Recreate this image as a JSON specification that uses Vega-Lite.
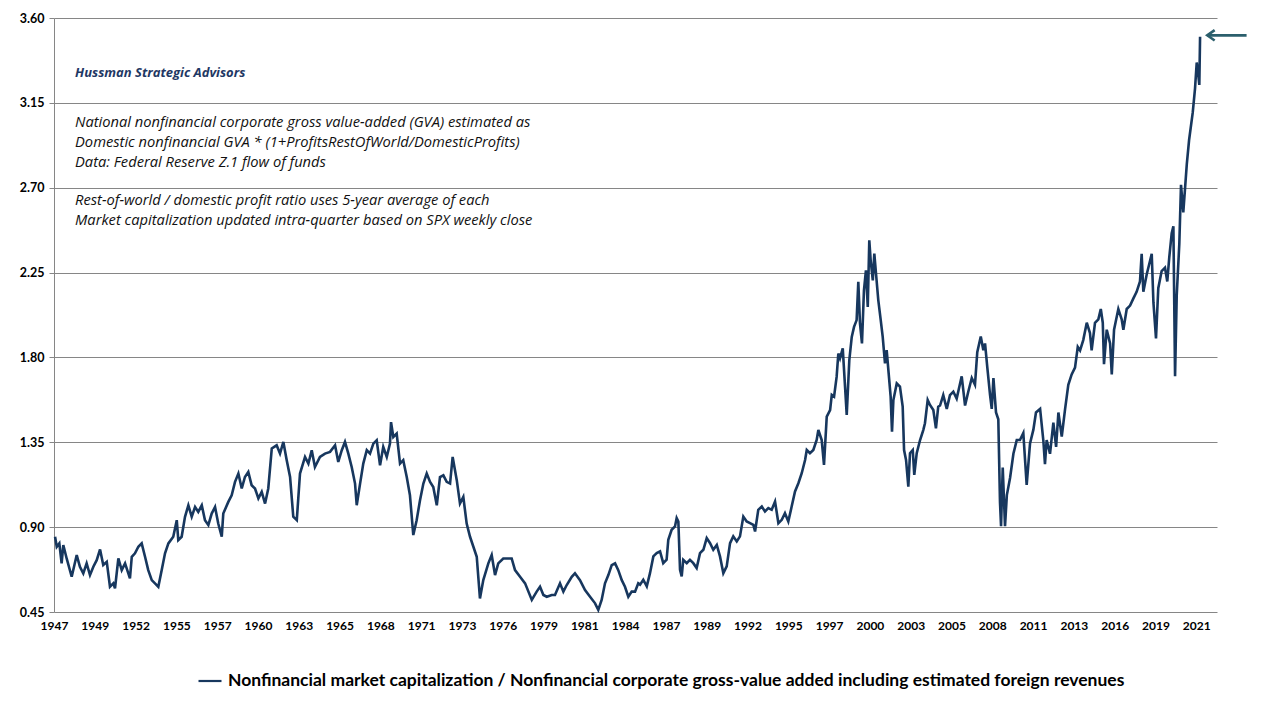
{
  "$schema": "https://vega.github.io/schema/vega-lite/v6.json",
  "autosize": "none",
  "width": 1163,
  "height": 594,
  "padding": {"left": 54, "top": 18, "right": 48, "bottom": 100},
  "background": "white",
  "config": {"view": {"stroke": null}},
  "datasets": {
    "series": [
      {"year":1947.07,"ratio":0.849},{"year":1947.18,"ratio":0.796},{"year":1947.35,"ratio":0.814},{"year":1947.50,"ratio":0.708},{"year":1947.61,"ratio":0.805},{"year":1947.83,"ratio":0.734},{"year":1948.16,"ratio":0.637},{"year":1948.49,"ratio":0.752},{"year":1948.70,"ratio":0.690},{"year":1948.92,"ratio":0.655},{"year":1949.14,"ratio":0.708},{"year":1949.36,"ratio":0.646},{"year":1949.58,"ratio":0.690},{"year":1949.80,"ratio":0.725},{"year":1950.02,"ratio":0.782},{"year":1950.23,"ratio":0.699},{"year":1950.46,"ratio":0.716},{"year":1950.67,"ratio":0.584},{"year":1950.89,"ratio":0.602},{"year":1951.00,"ratio":0.575},{"year":1951.22,"ratio":0.734},{"year":1951.44,"ratio":0.672},{"year":1951.66,"ratio":0.708},{"year":1951.98,"ratio":0.628},{"year":1952.10,"ratio":0.743},{"year":1952.31,"ratio":0.761},{"year":1952.53,"ratio":0.796},{"year":1952.75,"ratio":0.814},{"year":1952.97,"ratio":0.743},{"year":1953.18,"ratio":0.672},{"year":1953.41,"ratio":0.619},{"year":1953.62,"ratio":0.602},{"year":1953.84,"ratio":0.584},{"year":1954.06,"ratio":0.672},{"year":1954.28,"ratio":0.761},{"year":1954.50,"ratio":0.814},{"year":1954.82,"ratio":0.849},{"year":1955.05,"ratio":0.937},{"year":1955.15,"ratio":0.831},{"year":1955.37,"ratio":0.849},{"year":1955.59,"ratio":0.955},{"year":1955.81,"ratio":1.016},{"year":1956.03,"ratio":0.955},{"year":1956.25,"ratio":1.007},{"year":1956.46,"ratio":0.981},{"year":1956.69,"ratio":1.016},{"year":1956.90,"ratio":0.937},{"year":1957.12,"ratio":0.911},{"year":1957.34,"ratio":0.972},{"year":1957.56,"ratio":1.007},{"year":1957.77,"ratio":0.919},{"year":1958.00,"ratio":0.849},{"year":1958.10,"ratio":0.972},{"year":1958.43,"ratio":1.034},{"year":1958.65,"ratio":1.069},{"year":1958.87,"ratio":1.140},{"year":1959.09,"ratio":1.184},{"year":1959.31,"ratio":1.105},{"year":1959.52,"ratio":1.166},{"year":1959.74,"ratio":1.193},{"year":1959.96,"ratio":1.122},{"year":1960.18,"ratio":1.105},{"year":1960.40,"ratio":1.052},{"year":1960.62,"ratio":1.087},{"year":1960.84,"ratio":1.025},{"year":1961.05,"ratio":1.105},{"year":1961.28,"ratio":1.317},{"year":1961.60,"ratio":1.334},{"year":1961.82,"ratio":1.290},{"year":1962.04,"ratio":1.352},{"year":1962.26,"ratio":1.255},{"year":1962.48,"ratio":1.166},{"year":1962.69,"ratio":0.955},{"year":1962.92,"ratio":0.937},{"year":1963.13,"ratio":1.184},{"year":1963.46,"ratio":1.272},{"year":1963.68,"ratio":1.237},{"year":1963.90,"ratio":1.308},{"year":1964.11,"ratio":1.219},{"year":1964.44,"ratio":1.272},{"year":1964.77,"ratio":1.290},{"year":1965.10,"ratio":1.299},{"year":1965.43,"ratio":1.334},{"year":1965.64,"ratio":1.246},{"year":1965.87,"ratio":1.308},{"year":1966.08,"ratio":1.352},{"year":1966.30,"ratio":1.290},
      {"year":1966.52,"ratio":1.219},{"year":1966.74,"ratio":1.131},{"year":1966.85,"ratio":1.016},{"year":1967.07,"ratio":1.131},{"year":1967.28,"ratio":1.237},{"year":1967.51,"ratio":1.308},{"year":1967.72,"ratio":1.290},{"year":1967.94,"ratio":1.343},{"year":1968.16,"ratio":1.361},{"year":1968.38,"ratio":1.228},{"year":1968.59,"ratio":1.325},{"year":1968.82,"ratio":1.272},{"year":1969.03,"ratio":1.343},{"year":1969.10,"ratio":1.457},{"year":1969.25,"ratio":1.378},{"year":1969.47,"ratio":1.396},{"year":1969.69,"ratio":1.237},{"year":1969.90,"ratio":1.255},{"year":1970.13,"ratio":1.166},{"year":1970.34,"ratio":1.069},{"year":1970.56,"ratio":0.858},{"year":1970.78,"ratio":0.937},{"year":1971.00,"ratio":1.043},{"year":1971.22,"ratio":1.131},{"year":1971.44,"ratio":1.184},{"year":1971.66,"ratio":1.140},{"year":1971.87,"ratio":1.113},{"year":1972.10,"ratio":1.016},{"year":1972.31,"ratio":1.166},{"year":1972.53,"ratio":1.175},{"year":1972.75,"ratio":1.140},{"year":1972.97,"ratio":1.131},{"year":1973.14,"ratio":1.272},{"year":1973.41,"ratio":1.149},{"year":1973.62,"ratio":1.025},{"year":1973.84,"ratio":1.060},{"year":1974.06,"ratio":0.919},{"year":1974.28,"ratio":0.849},{"year":1974.50,"ratio":0.796},{"year":1974.72,"ratio":0.743},{"year":1974.93,"ratio":0.522},{"year":1975.15,"ratio":0.619},{"year":1975.48,"ratio":0.708},{"year":1975.70,"ratio":0.752},{"year":1975.92,"ratio":0.646},{"year":1976.13,"ratio":0.708},{"year":1976.46,"ratio":0.734},{"year":1976.79,"ratio":0.734},{"year":1977.01,"ratio":0.734},{"year":1977.23,"ratio":0.672},{"year":1977.56,"ratio":0.637},{"year":1977.89,"ratio":0.602},{"year":1978.33,"ratio":0.514},{"year":1978.65,"ratio":0.558},{"year":1978.87,"ratio":0.584},{"year":1979.09,"ratio":0.540},{"year":1979.31,"ratio":0.531},{"year":1979.64,"ratio":0.540},{"year":1979.85,"ratio":0.540},{"year":1980.18,"ratio":0.602},{"year":1980.40,"ratio":0.558},{"year":1980.62,"ratio":0.593},{"year":1980.95,"ratio":0.637},{"year":1981.16,"ratio":0.655},{"year":1981.49,"ratio":0.619},{"year":1981.82,"ratio":0.566},{"year":1982.15,"ratio":0.531},{"year":1982.48,"ratio":0.496},{"year":1982.69,"ratio":0.461},{"year":1982.91,"ratio":0.514},{"year":1983.13,"ratio":0.602},{"year":1983.35,"ratio":0.646},{"year":1983.57,"ratio":0.699},{"year":1983.79,"ratio":0.708},{"year":1984.00,"ratio":0.672},{"year":1984.23,"ratio":0.619},{"year":1984.44,"ratio":0.584},{"year":1984.66,"ratio":0.531},{"year":1984.88,"ratio":0.558},{"year":1985.10,"ratio":0.558},
      {"year":1985.31,"ratio":0.602},{"year":1985.43,"ratio":0.595},{"year":1985.64,"ratio":0.621},{"year":1985.87,"ratio":0.586},{"year":1986.08,"ratio":0.656},{"year":1986.30,"ratio":0.745},{"year":1986.52,"ratio":0.762},{"year":1986.74,"ratio":0.771},{"year":1986.95,"ratio":0.709},{"year":1987.17,"ratio":0.727},{"year":1987.28,"ratio":0.833},{"year":1987.50,"ratio":0.886},{"year":1987.72,"ratio":0.904},{"year":1987.83,"ratio":0.948},{"year":1987.94,"ratio":0.930},{"year":1988.05,"ratio":0.674},{"year":1988.16,"ratio":0.639},{"year":1988.26,"ratio":0.727},{"year":1988.49,"ratio":0.709},{"year":1988.70,"ratio":0.727},{"year":1988.92,"ratio":0.709},{"year":1989.14,"ratio":0.683},{"year":1989.36,"ratio":0.762},{"year":1989.58,"ratio":0.780},{"year":1989.80,"ratio":0.842},{"year":1990.02,"ratio":0.815},{"year":1990.23,"ratio":0.780},{"year":1990.46,"ratio":0.806},{"year":1990.67,"ratio":0.745},{"year":1990.89,"ratio":0.656},{"year":1991.11,"ratio":0.692},{"year":1991.33,"ratio":0.815},{"year":1991.54,"ratio":0.851},{"year":1991.77,"ratio":0.824},{"year":1991.98,"ratio":0.851},{"year":1992.20,"ratio":0.956},{"year":1992.42,"ratio":0.930},{"year":1992.64,"ratio":0.921},{"year":1992.86,"ratio":0.912},{"year":1992.97,"ratio":0.877},{"year":1993.18,"ratio":0.992},{"year":1993.41,"ratio":1.009},{"year":1993.62,"ratio":0.983},{"year":1993.84,"ratio":1.001},{"year":1994.06,"ratio":0.992},{"year":1994.28,"ratio":1.036},{"year":1994.50,"ratio":0.921},{"year":1994.72,"ratio":0.939},{"year":1994.93,"ratio":0.974},{"year":1995.15,"ratio":0.930},{"year":1995.37,"ratio":1.009},{"year":1995.59,"ratio":1.089},{"year":1995.81,"ratio":1.133},{"year":1996.03,"ratio":1.186},{"year":1996.25,"ratio":1.256},{"year":1996.36,"ratio":1.309},{"year":1996.57,"ratio":1.292},{"year":1996.79,"ratio":1.309},{"year":1997.01,"ratio":1.362},{"year":1997.12,"ratio":1.415},{"year":1997.34,"ratio":1.362},{"year":1997.49,"ratio":1.230},{"year":1997.67,"ratio":1.486},{"year":1997.89,"ratio":1.521},{"year":1998.00,"ratio":1.601},{"year":1998.15,"ratio":1.592},{"year":1998.32,"ratio":1.698},{"year":1998.43,"ratio":1.821},{"year":1998.54,"ratio":1.795},{"year":1998.72,"ratio":1.848},{"year":1998.87,"ratio":1.645},{"year":1998.98,"ratio":1.495},{"year":1999.15,"ratio":1.786},{"year":1999.31,"ratio":1.909},{"year":1999.46,"ratio":1.962},{"year":1999.63,"ratio":1.998},{"year":1999.74,"ratio":2.201},{"year":1999.85,"ratio":1.980},{"year":1999.98,"ratio":1.874},{"year":2000.11,"ratio":2.156},{"year":2000.24,"ratio":2.262},{"year":2000.36,"ratio":2.068},{"year":2000.46,"ratio":2.421},{"year":2000.55,"ratio":2.315},{"year":2000.69,"ratio":2.209},{"year":2000.79,"ratio":2.351},{"year":2000.90,"ratio":2.245},{"year":2001.05,"ratio":2.104},{"year":2001.21,"ratio":1.998},{"year":2001.34,"ratio":1.909},{"year":2001.49,"ratio":1.768},{"year":2001.60,"ratio":1.839},{"year":2001.73,"ratio":1.715},{"year":2001.86,"ratio":1.592},{"year":2001.95,"ratio":1.406},{"year":2002.04,"ratio":1.574},{"year":2002.26,"ratio":1.662},{"year":2002.47,"ratio":1.645},{"year":2002.65,"ratio":1.539},{"year":2002.74,"ratio":1.309},{"year":2002.87,"ratio":1.256},{"year":2003.02,"ratio":1.115},{"year":2003.13,"ratio":1.292},{"year":2003.31,"ratio":1.309},{"year":2003.41,"ratio":1.177},{"year":2003.57,"ratio":1.292},{"year":2003.79,"ratio":1.362},{"year":2004.00,"ratio":1.415},{"year":2004.11,"ratio":1.451},{"year":2004.29,"ratio":1.574},{"year":2004.44,"ratio":1.548},{"year":2004.66,"ratio":1.521},{"year":2004.83,"ratio":1.424},{"year":2004.98,"ratio":1.539},
      {"year":2005.10,"ratio":1.545},{"year":2005.31,"ratio":1.600},{"year":2005.54,"ratio":1.527},{"year":2005.75,"ratio":1.600},{"year":2005.97,"ratio":1.618},{"year":2006.19,"ratio":1.582},{"year":2006.52,"ratio":1.700},{"year":2006.74,"ratio":1.545},{"year":2006.95,"ratio":1.618},{"year":2007.18,"ratio":1.691},{"year":2007.39,"ratio":1.655},{"year":2007.54,"ratio":1.828},{"year":2007.77,"ratio":1.911},{"year":2007.94,"ratio":1.838},{"year":2008.05,"ratio":1.874},{"year":2008.20,"ratio":1.746},{"year":2008.38,"ratio":1.600},{"year":2008.49,"ratio":1.527},{"year":2008.60,"ratio":1.691},{"year":2008.77,"ratio":1.508},{"year":2008.92,"ratio":1.472},{"year":2009.03,"ratio":1.033},{"year":2009.10,"ratio":0.905},{"year":2009.21,"ratio":1.216},{"year":2009.36,"ratio":0.905},{"year":2009.48,"ratio":1.070},{"year":2009.69,"ratio":1.161},{"year":2009.91,"ratio":1.289},{"year":2010.13,"ratio":1.362},{"year":2010.34,"ratio":1.362},{"year":2010.56,"ratio":1.399},{"year":2010.78,"ratio":1.124},{"year":2011.00,"ratio":1.344},{"year":2011.22,"ratio":1.417},{"year":2011.39,"ratio":1.508},{"year":2011.66,"ratio":1.527},{"year":2011.87,"ratio":1.362},{"year":2011.98,"ratio":1.234},{"year":2012.09,"ratio":1.362},{"year":2012.31,"ratio":1.289},{"year":2012.53,"ratio":1.454},{"year":2012.71,"ratio":1.326},{"year":2012.86,"ratio":1.508},{"year":2013.08,"ratio":1.380},{"year":2013.30,"ratio":1.527},{"year":2013.51,"ratio":1.655},{"year":2013.73,"ratio":1.710},{"year":2013.95,"ratio":1.746},{"year":2014.13,"ratio":1.856},{"year":2014.28,"ratio":1.837},{"year":2014.49,"ratio":1.892},{"year":2014.72,"ratio":1.984},{"year":2014.93,"ratio":1.929},{"year":2015.04,"ratio":1.837},{"year":2015.26,"ratio":1.984},{"year":2015.48,"ratio":2.002},{"year":2015.64,"ratio":2.057},{"year":2015.77,"ratio":1.984},{"year":2015.85,"ratio":1.764},{"year":2016.03,"ratio":1.947},{"year":2016.25,"ratio":1.874},{"year":2016.36,"ratio":1.710},{"year":2016.51,"ratio":1.947},{"year":2016.79,"ratio":2.057},{"year":2017.01,"ratio":2.002},{"year":2017.12,"ratio":1.947},{"year":2017.34,"ratio":2.057},{"year":2017.56,"ratio":2.075},{"year":2017.77,"ratio":2.112},{"year":2017.99,"ratio":2.148},{"year":2018.21,"ratio":2.203},{"year":2018.32,"ratio":2.349},{"year":2018.43,"ratio":2.148},{"year":2018.65,"ratio":2.240},{"year":2018.87,"ratio":2.313},{"year":2018.98,"ratio":2.349},{"year":2019.09,"ratio":2.093},{"year":2019.26,"ratio":1.901},{"year":2019.41,"ratio":2.167},{"year":2019.63,"ratio":2.258},{"year":2019.85,"ratio":2.276},{"year":2020.00,"ratio":2.203},{"year":2020.13,"ratio":2.331},{"year":2020.29,"ratio":2.459},{"year":2020.40,"ratio":2.496},{"year":2020.51,"ratio":1.700},{"year":2020.62,"ratio":2.130},{"year":2020.79,"ratio":2.404},{"year":2020.90,"ratio":2.715},{"year":2021.05,"ratio":2.569},{"year":2021.28,"ratio":2.825},{"year":2021.43,"ratio":2.953},{"year":2021.67,"ratio":3.099},{"year":2021.82,"ratio":3.227},{"year":2021.93,"ratio":3.364},{"year":2022.03,"ratio":3.300},{"year":2022.10,"ratio":3.245},{"year":2022.15,"ratio":3.501}
    ],
    "notes": [
      {"label": "National nonfinancial corporate gross value-added (GVA) estimated as", "year": 1948.38, "val": 3.044},
      {"label": "Domestic nonfinancial GVA * (1+ProfitsRestOfWorld/DomesticProfits)", "year": 1948.38, "val": 2.938},
      {"label": "Data: Federal Reserve Z.1 flow of funds", "year": 1948.38, "val": 2.832},
      {"label": "Rest-of-world / domestic profit ratio uses 5-year average of each", "year": 1948.38, "val": 2.631},
      {"label": "Market capitalization updated intra-quarter  based on SPX weekly close", "year": 1948.38, "val": 2.525}
    ],
    "brand": [
      {"label": "Hussman Strategic Advisors", "year": 1948.38, "val": 3.309}
    ],
    "arrow": [
      {"tip": 2022.62, "tail": 2025.2, "val": 3.508}
    ]
  },
  "layer": [
    {
      "data": {"name": "series"},
      "mark": {"type": "line", "strokeWidth": 2.6, "interpolate": "linear"},
      "encoding": {
        "x": {
          "field": "year", "type": "quantitative",
          "scale": {"domain": [1947, 2023.26], "nice": false, "zero": false},
          "axis": {
            "title": null,
            "values": [1947, 1949.675, 1952.35, 1955.025, 1957.7, 1960.375, 1963.05, 1965.725, 1968.4, 1971.075, 1973.75, 1976.425, 1979.1, 1981.775, 1984.45, 1987.125, 1989.8, 1992.475, 1995.15, 1997.825, 2000.5, 2003.175, 2005.85, 2008.525, 2011.2, 2013.875, 2016.55, 2019.225, 2021.9],
            "labelExpr": "'' + floor(datum.value)",
            "grid": false, "ticks": false, "domain": false,
            "labelFont": "Lato", "labelFontWeight": "bold", "labelFontSize": 12,
            "labelColor": "#000000", "labelPadding": 8,
            "labelFlush": false, "labelOverlap": false
          }
        },
        "y": {
          "field": "ratio", "type": "quantitative",
          "scale": {"domain": [0.45, 3.6], "nice": false, "zero": false},
          "axis": {
            "title": null,
            "values": [0.45, 0.9, 1.35, 1.8, 2.25, 2.7, 3.15, 3.6],
            "format": ".2f",
            "grid": true, "gridColor": "#868686", "gridWidth": 1, "gridOpacity": 1,
            "domain": true, "domainColor": "#868686",
            "ticks": true, "tickColor": "#868686", "tickSize": 5,
            "labelFont": "Lato", "labelFontWeight": "bold", "labelFontSize": 12.5,
            "labelColor": "#000000", "labelPadding": 5
          }
        },
        "color": {
          "datum": "Nonfinancial market capitalization / Nonfinancial corporate gross-value added including estimated foreign revenues",
          "type": "nominal",
          "scale": {"range": ["#17375E"]},
          "legend": {
            "title": null, "orient": "none", "legendX": 143, "legendY": 650,
            "symbolType": "stroke", "symbolSize": 529, "symbolStrokeWidth": 2.2,
            "labelFont": "Lato", "labelFontWeight": "bold", "labelFontSize": 17.5,
            "labelColor": "#000000", "labelLimit": 0, "labelOffset": 5
          }
        }
      }
    },
    {
      "data": {"name": "notes"},
      "mark": {"type": "text", "align": "left", "baseline": "middle", "font": "Open Sans", "fontStyle": "italic", "fontSize": 14.7, "color": "#111111"},
      "encoding": {
        "x": {"field": "year", "type": "quantitative"},
        "y": {"field": "val", "type": "quantitative"},
        "text": {"field": "label"}
      }
    },
    {
      "data": {"name": "brand"},
      "mark": {"type": "text", "align": "left", "baseline": "middle", "font": "Open Sans", "fontStyle": "italic", "fontWeight": "bold", "fontSize": 13, "color": "#1F3864"},
      "encoding": {
        "x": {"field": "year", "type": "quantitative"},
        "y": {"field": "val", "type": "quantitative"},
        "text": {"field": "label"}
      }
    },
    {
      "data": {"name": "arrow"},
      "mark": {"type": "rule", "color": "#2B5F6C", "strokeWidth": 2.6, "clip": false},
      "encoding": {
        "x": {"field": "tip", "type": "quantitative"},
        "x2": {"field": "tail"},
        "y": {"field": "val", "type": "quantitative"}
      }
    },
    {
      "data": {"name": "arrow"},
      "mark": {"type": "point", "shape": "M1,-0.7L0,0L1,0.7", "filled": false, "size": 220, "stroke": "#2B5F6C", "strokeWidth": 2.6, "opacity": 1, "clip": false},
      "encoding": {
        "x": {"field": "tip", "type": "quantitative"},
        "y": {"field": "val", "type": "quantitative"}
      }
    }
  ]
}
